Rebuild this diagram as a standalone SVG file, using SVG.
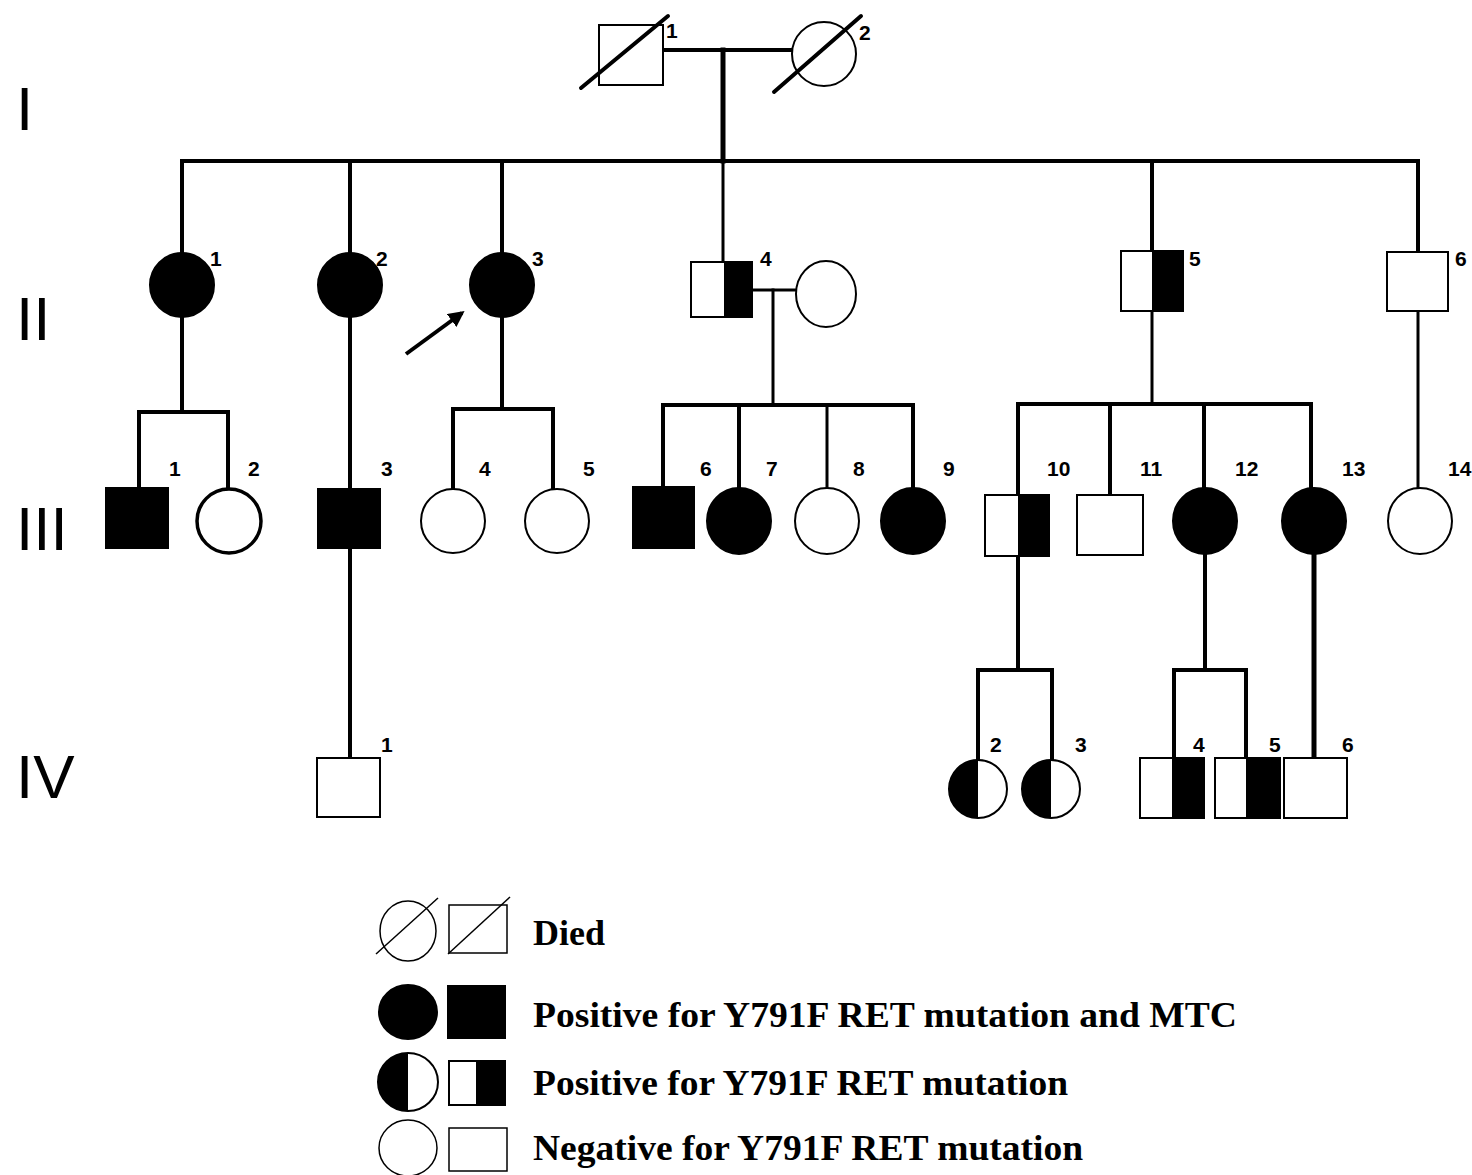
<svg xmlns="http://www.w3.org/2000/svg" width="1472" height="1175" viewBox="0 0 1472 1175">
<style>
.ln{stroke:#000;stroke-width:4;fill:none;stroke-linecap:square}
.sh{fill:#fff;stroke:#000;stroke-width:2}
.bk{fill:#000;stroke:#000;stroke-width:2}
.hf{fill:#000;stroke:none}
.lbl{font-family:"Liberation Sans",Arial,sans-serif;font-weight:bold;font-size:21px;fill:#000}
.gen{font-family:"Liberation Sans",Arial,sans-serif;font-size:62px;fill:#000}
.leg{font-family:"Liberation Serif","Times New Roman",serif;font-weight:bold;font-size:36px;fill:#000}
.dia{stroke:#000;stroke-width:4;stroke-linecap:round}
</style>
<defs>
<marker id="ah" viewBox="0 0 10 10" refX="8" refY="5" markerWidth="4" markerHeight="4" orient="auto">
<path d="M0,0 L10,5 L0,10 Z" fill="#000"/>
</marker>
</defs>
<rect width="1472" height="1175" fill="#fff"/>

<g id="generations">
<text class="gen" x="16" y="130">I</text>
<text class="gen" x="16" y="340">II</text>
<text class="gen" x="16" y="550">III</text>
<text class="gen" x="16" y="798">IV</text>
</g>

<g id="connectors">
<line class="ln" x1="663" y1="50" x2="792" y2="50"/>
<line class="ln" x1="723" y1="50" x2="723" y2="161" style="stroke-width:5"/>
<line class="ln" x1="182" y1="161" x2="1418" y2="161"/>
<line class="ln" x1="182" y1="161" x2="182" y2="253"/>
<line class="ln" x1="350" y1="161" x2="350" y2="253"/>
<line class="ln" x1="502" y1="161" x2="502" y2="253"/>
<line class="ln" x1="723" y1="161" x2="723" y2="262" style="stroke-width:3"/>
<line class="ln" x1="1152" y1="161" x2="1152" y2="251"/>
<line class="ln" x1="1418" y1="161" x2="1418" y2="252"/>
<line class="ln" x1="182" y1="317" x2="182" y2="412"/>
<line class="ln" x1="139" y1="412" x2="228" y2="412"/>
<line class="ln" x1="139" y1="412" x2="139" y2="488"/>
<line class="ln" x1="228" y1="412" x2="228" y2="489"/>
<line class="ln" x1="350" y1="317" x2="350" y2="489"/>
<line class="ln" x1="350" y1="548" x2="350" y2="758"/>
<line class="ln" x1="502" y1="317" x2="502" y2="409"/>
<line class="ln" x1="453" y1="409" x2="553" y2="409"/>
<line class="ln" x1="453" y1="409" x2="453" y2="489"/>
<line class="ln" x1="553" y1="409" x2="553" y2="489"/>
<line class="ln" x1="752" y1="290" x2="796" y2="290" style="stroke-width:3"/>
<line class="ln" x1="773" y1="290" x2="773" y2="405" style="stroke-width:3"/>
<line class="ln" x1="663" y1="405" x2="913" y2="405"/>
<line class="ln" x1="663" y1="405" x2="663" y2="487"/>
<line class="ln" x1="739" y1="405" x2="739" y2="489"/>
<line class="ln" x1="827" y1="405" x2="827" y2="489" style="stroke-width:3"/>
<line class="ln" x1="913" y1="405" x2="913" y2="489"/>
<line class="ln" x1="1152" y1="311" x2="1152" y2="404" style="stroke-width:3"/>
<line class="ln" x1="1018" y1="404" x2="1311" y2="404"/>
<line class="ln" x1="1018" y1="404" x2="1018" y2="495"/>
<line class="ln" x1="1110" y1="404" x2="1110" y2="495"/>
<line class="ln" x1="1204" y1="404" x2="1204" y2="488"/>
<line class="ln" x1="1311" y1="404" x2="1311" y2="488"/>
<line class="ln" x1="1418" y1="311" x2="1418" y2="489" style="stroke-width:3"/>
<line class="ln" x1="1018" y1="556" x2="1018" y2="670"/>
<line class="ln" x1="978" y1="670" x2="1052" y2="670"/>
<line class="ln" x1="978" y1="670" x2="978" y2="760"/>
<line class="ln" x1="1052" y1="670" x2="1052" y2="760"/>
<line class="ln" x1="1205" y1="554" x2="1205" y2="670"/>
<line class="ln" x1="1174" y1="670" x2="1246" y2="670"/>
<line class="ln" x1="1174" y1="670" x2="1174" y2="758"/>
<line class="ln" x1="1246" y1="670" x2="1246" y2="758"/>
<line class="ln" x1="1314" y1="554" x2="1314" y2="758" style="stroke-width:5"/>
<line x1="406" y1="354" x2="462" y2="313" stroke="#000" stroke-width="4" marker-end="url(#ah)"/>
</g>

<g id="I-1">
<rect class="sh" x="599" y="25" width="64" height="60"/>
<line class="dia" x1="581" y1="88" x2="668" y2="16"/>
<text class="lbl" x="666" y="38">1</text>
</g>
<g id="I-2">
<circle class="sh" cx="824" cy="54" r="32"/>
<line class="dia" x1="774" y1="92" x2="861" y2="16"/>
<text class="lbl" x="859" y="40">2</text>
</g>

<g id="II-1">
<circle class="bk" cx="182" cy="285" r="32"/>
<text class="lbl" x="210" y="266">1</text>
</g>
<g id="II-2">
<circle class="bk" cx="350" cy="285" r="32"/>
<text class="lbl" x="376" y="266">2</text>
</g>
<g id="II-3">
<circle class="bk" cx="502" cy="285" r="32"/>
<text class="lbl" x="532" y="266">3</text>
</g>
<g id="II-4">
<rect class="sh" x="691" y="262" width="61" height="55"/>
<rect class="hf" x="724" y="262" width="28" height="55"/>
<text class="lbl" x="760" y="266">4</text>
</g>
<g id="II-4-spouse">
<ellipse class="sh" cx="826" cy="294" rx="30" ry="33"/>
</g>
<g id="II-5">
<rect class="sh" x="1121" y="251" width="62" height="60"/>
<rect class="hf" x="1152" y="251" width="31" height="60"/>
<text class="lbl" x="1189" y="266">5</text>
</g>
<g id="II-6">
<rect class="sh" x="1387" y="252" width="61" height="59"/>
<text class="lbl" x="1455" y="266">6</text>
</g>

<g id="III-1">
<rect class="bk" x="106" y="488" width="62" height="60"/>
<text class="lbl" x="169" y="476">1</text>
</g>
<g id="III-2">
<circle class="sh" cx="229" cy="521" r="32" style="stroke-width:3.5"/>
<text class="lbl" x="248" y="476">2</text>
</g>
<g id="III-3">
<rect class="bk" x="318" y="489" width="62" height="59"/>
<text class="lbl" x="381" y="476">3</text>
</g>
<g id="III-4">
<circle class="sh" cx="453" cy="521" r="32"/>
<text class="lbl" x="479" y="476">4</text>
</g>
<g id="III-5">
<circle class="sh" cx="557" cy="521" r="32"/>
<text class="lbl" x="583" y="476">5</text>
</g>
<g id="III-6">
<rect class="bk" x="633" y="487" width="61" height="61"/>
<text class="lbl" x="700" y="476">6</text>
</g>
<g id="III-7">
<ellipse class="bk" cx="739" cy="521" rx="32" ry="33"/>
<text class="lbl" x="766" y="476">7</text>
</g>
<g id="III-8">
<ellipse class="sh" cx="827" cy="521" rx="32" ry="33"/>
<text class="lbl" x="853" y="476">8</text>
</g>
<g id="III-9">
<ellipse class="bk" cx="913" cy="521" rx="32" ry="33"/>
<text class="lbl" x="943" y="476">9</text>
</g>
<g id="III-10">
<rect class="sh" x="985" y="495" width="64" height="61"/>
<rect class="hf" x="1018" y="495" width="31" height="61"/>
<text class="lbl" x="1047" y="476">10</text>
</g>
<g id="III-11">
<rect class="sh" x="1077" y="495" width="66" height="60"/>
<text class="lbl" x="1140" y="476">11</text>
</g>
<g id="III-12">
<ellipse class="bk" cx="1205" cy="521" rx="32" ry="33"/>
<text class="lbl" x="1235" y="476">12</text>
</g>
<g id="III-13">
<ellipse class="bk" cx="1314" cy="521" rx="32" ry="33"/>
<text class="lbl" x="1342" y="476">13</text>
</g>
<g id="III-14">
<ellipse class="sh" cx="1420" cy="521" rx="32" ry="33"/>
<text class="lbl" x="1448" y="476">14</text>
</g>

<g id="IV-1">
<rect class="sh" x="317" y="758" width="63" height="59"/>
<text class="lbl" x="381" y="752">1</text>
</g>
<g id="IV-2">
<circle class="sh" cx="978" cy="789" r="29"/>
<path class="hf" d="M978,760 A29,29 0 0 0 978,818 Z"/>
<text class="lbl" x="990" y="752">2</text>
</g>
<g id="IV-3">
<circle class="sh" cx="1051" cy="789" r="29"/>
<path class="hf" d="M1051,760 A29,29 0 0 0 1051,818 Z"/>
<text class="lbl" x="1075" y="752">3</text>
</g>
<g id="IV-4">
<rect class="sh" x="1140" y="758" width="64" height="60"/>
<rect class="hf" x="1172" y="758" width="32" height="60"/>
<text class="lbl" x="1193" y="752">4</text>
</g>
<g id="IV-5">
<rect class="sh" x="1215" y="758" width="65" height="60"/>
<rect class="hf" x="1246" y="758" width="34" height="60"/>
<text class="lbl" x="1269" y="752">5</text>
</g>
<g id="IV-6">
<rect class="sh" x="1284" y="758" width="63" height="60"/>
<text class="lbl" x="1342" y="752">6</text>
</g>

<g id="legend">
<ellipse class="sh" cx="408" cy="931" rx="28" ry="30" style="stroke-width:1.5"/>
<line x1="376" y1="954" x2="438" y2="898" stroke="#000" stroke-width="1.5"/>
<rect class="sh" x="449" y="905" width="58" height="48" style="stroke-width:1.5"/>
<line x1="448" y1="954" x2="510" y2="897" stroke="#000" stroke-width="1.5"/>
<text class="leg" x="533" y="945" textLength="72" lengthAdjust="spacingAndGlyphs">Died</text>

<ellipse class="bk" cx="408" cy="1012" rx="29" ry="27"/>
<rect class="bk" x="448" y="986" width="57" height="52"/>
<text class="leg" x="533" y="1027" textLength="704" lengthAdjust="spacingAndGlyphs">Positive for Y791F RET mutation and MTC</text>

<ellipse class="sh" cx="408" cy="1082" rx="30" ry="29"/>
<path class="hf" d="M408,1053 A30,29 0 0 0 408,1111 Z"/>
<rect class="sh" x="449" y="1061" width="56" height="44"/>
<rect class="hf" x="476" y="1061" width="29" height="44"/>
<text class="leg" x="533" y="1095" textLength="535" lengthAdjust="spacingAndGlyphs">Positive for Y791F RET mutation</text>

<ellipse class="sh" cx="408" cy="1148" rx="29" ry="28" style="stroke-width:1.5"/>
<rect class="sh" x="449" y="1128" width="58" height="43" style="stroke-width:1.5"/>
<text class="leg" x="533" y="1160" textLength="550" lengthAdjust="spacingAndGlyphs">Negative for Y791F RET mutation</text>
</g>
</svg>
